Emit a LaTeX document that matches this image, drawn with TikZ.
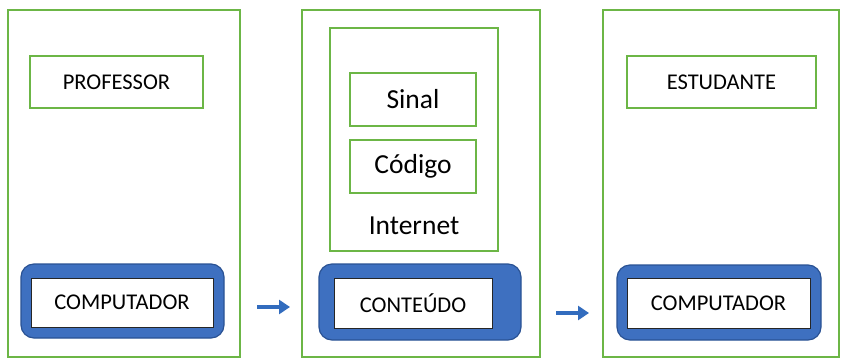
\documentclass[tikz,border=0pt]{standalone}
\usepackage{fontspec}
\setmainfont{Carlito}
\usetikzlibrary{arrows.meta}
\definecolor{boxgreen}{RGB}{108,182,70}
\definecolor{devblue}{RGB}{62,112,192}
\definecolor{devedge}{RGB}{42,82,148}
\definecolor{arrowblue}{RGB}{50,108,190}
\tikzset{
  greenbox/.style={draw=boxgreen, line width=2.8pt, fill=white, inner sep=0pt},
  devshell/.style={draw=devedge, fill=devblue, line width=1.2pt, rounded corners=13pt, inner sep=0pt},
  devlabel/.style={draw=black!85, fill=white, line width=1pt, inner sep=0pt, font=\fontsize{22.5}{26}\selectfont},
  caplabel/.style={font=\fontsize{22.5}{26}\selectfont},
  biglabel/.style={font=\fontsize{27.5}{32}\selectfont},
  flow/.style={draw=arrowblue, line width=3.2pt, -{Triangle[length=11pt,width=14pt]}}
}
\begin{document}
\begin{tikzpicture}[x=1pt, y=-1pt]
\useasboundingbox (0,0) rectangle (841,359);
\fill[white] (0,0) rectangle (841,359);

% Panel 1: teacher side
\node[greenbox, minimum width=232pt, minimum height=347pt] (p1) at (124,183.5) {};
\node[greenbox, caplabel, minimum width=173pt, minimum height=52pt] (prof) at (116.5,82) {PROFESSOR};
\node[devshell, minimum width=203pt, minimum height=74pt] (dev1) at (122.5,301) {};
\node[devlabel, minimum width=182pt, minimum height=49pt] (comp1) at (122,302.5) {COMPUTADOR};

% Panel 2: transmission
\node[greenbox, minimum width=238pt, minimum height=347pt] (p2) at (421,183.5) {};
\node[greenbox, minimum width=168pt, minimum height=223pt] (net) at (414,139.5) {};
\node[greenbox, biglabel, minimum width=126pt, minimum height=53pt] (sinal) at (413,99.5) {Sinal};
\node[greenbox, biglabel, minimum width=126pt, minimum height=53pt] (codigo) at (413,166.5) {Código};
\node[biglabel] (netlabel) at (414,226) {Internet};
\node[devshell, minimum width=202pt, minimum height=76pt] (dev2) at (420,302) {};
\node[devlabel, minimum width=158pt, minimum height=50pt] (cont) at (413,303) {CONTEÚDO};

% Panel 3: student side
\node[greenbox, minimum width=236pt, minimum height=347pt] (p3) at (721,183.5) {};
\node[greenbox, caplabel, minimum width=189pt, minimum height=52pt] (estud) at (721.5,82) {ESTUDANTE};
\node[devshell, minimum width=204pt, minimum height=75pt] (dev3) at (719,302.5) {};
\node[devlabel, minimum width=183pt, minimum height=50pt] (comp3) at (718.5,303) {COMPUTADOR};

% Flow arrows between panels
\coordinate (a1s) at (257,307);
\coordinate (a1e) at (290,307);
\coordinate (a2s) at (556,313);
\coordinate (a2e) at (589,313);
\draw[flow] (a1s) -- (a1e);
\draw[flow] (a2s) -- (a2e);
\end{tikzpicture}
\end{document}
